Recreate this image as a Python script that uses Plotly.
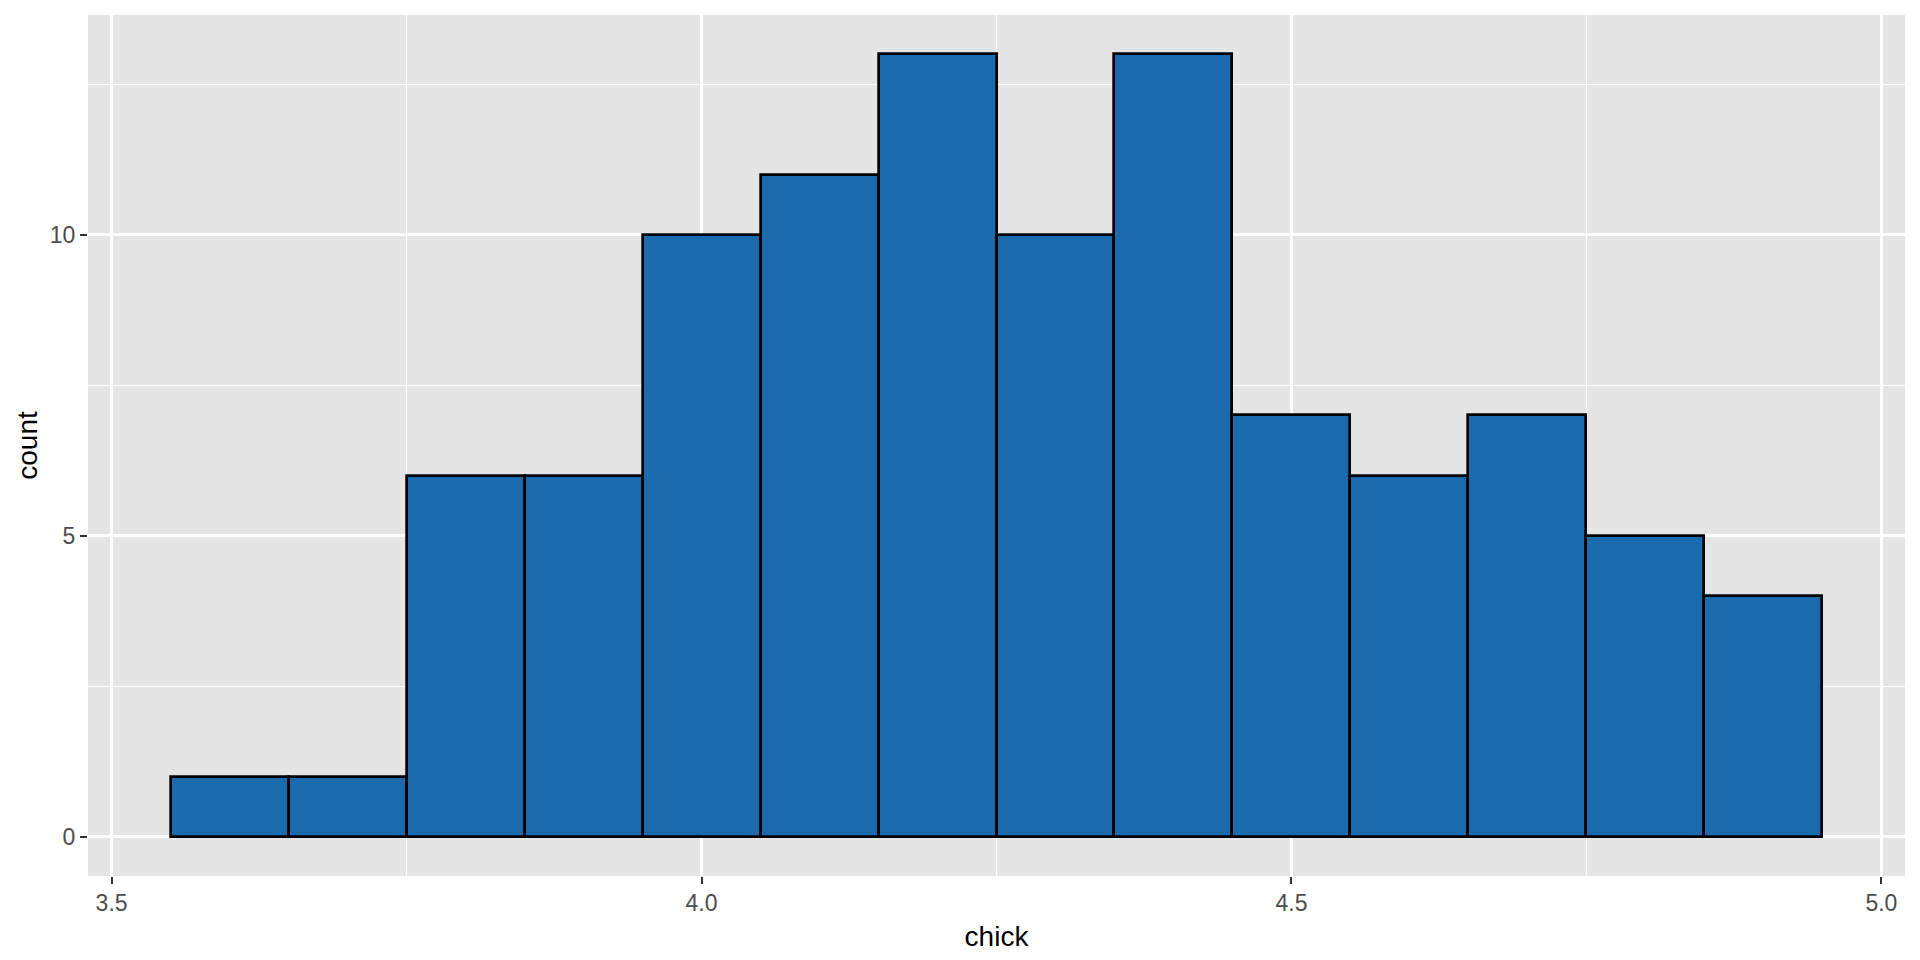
import plotly.graph_objects as go

# histogram of chick values, bins of width 0.1
bin_centers = [3.6, 3.7, 3.8, 3.9, 4.0, 4.1, 4.2, 4.3, 4.4, 4.5, 4.6, 4.7, 4.8, 4.9]
counts = [1, 1, 6, 6, 10, 11, 13, 10, 13, 7, 6, 7, 5, 4]
x_ticks = [3.5, 4.0, 4.5, 5.0]
x_tick_labels = ["3.5", "4.0", "4.5", "5.0"]
y_ticks = [0, 5, 10]
y_tick_labels = ["0", "5", "10"]

fig = go.Figure(go.Bar(
    x=bin_centers,
    y=counts,
    width=0.1,
    marker=dict(color="#1B6AAE", line=dict(color="black", width=2.7)),
    hoverinfo="x+y",
))

axis_common = dict(
    showgrid=True,
    gridcolor="white",
    gridwidth=2.7,
    zeroline=False,
    showline=False,
    ticks="outside",
    ticklen=7,
    tickwidth=2.2,
    tickcolor="#333333",
    tickfont=dict(family="Liberation Sans, Arial", size=23, color="#4d4d4d"),
)

# page body has an 8px margin, so the figure is 16px smaller than the window
fig.update_layout(
    width=1904,
    height=944,
    margin=dict(l=80, r=7, t=7, b=76),
    paper_bgcolor="white",
    plot_bgcolor="#E5E5E5",
    showlegend=False,
    bargap=0,
    xaxis=dict(
        axis_common,
        range=[3.48, 5.02],
        tickvals=x_ticks,
        ticktext=x_tick_labels,
        ticklabelstandoff=-1,
        minor=dict(tickvals=[3.75, 4.25, 4.75], showgrid=True, gridcolor="white", gridwidth=1.4, ticks=""),
        title=dict(text="chick", font=dict(family="Liberation Sans, Arial", size=28, color="black"), standoff=11),
    ),
    yaxis=dict(
        axis_common,
        range=[-0.65, 13.65],
        tickvals=y_ticks,
        ticktext=y_tick_labels,
        minor=dict(tickvals=[2.5, 7.5, 12.5], showgrid=True, gridcolor="white", gridwidth=1.4, ticks=""),
        title=dict(text="count", font=dict(family="Liberation Sans, Arial", size=28, color="black"), standoff=4),
    ),
)

fig.write_html("out.html")
